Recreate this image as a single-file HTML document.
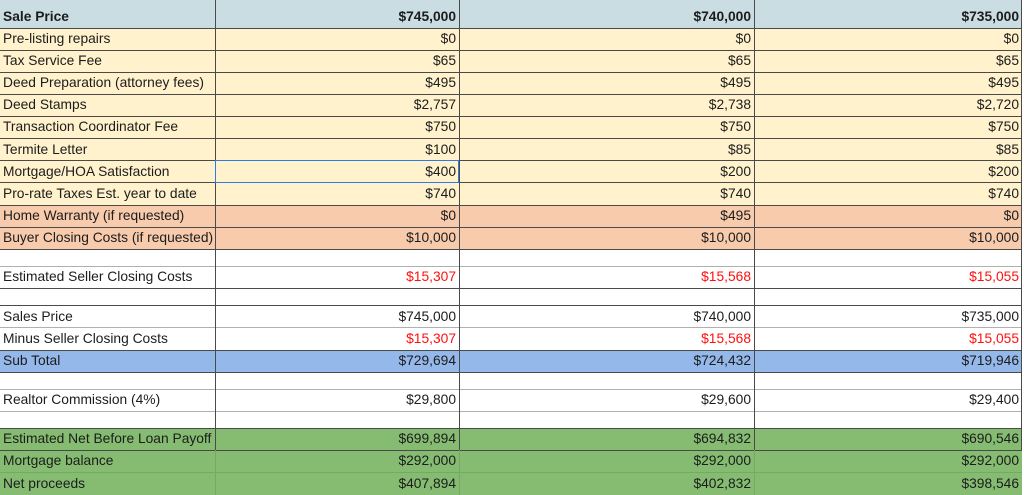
<!DOCTYPE html>
<html><head><meta charset="utf-8">
<style>
html,body{margin:0;padding:0;background:#fff;}
body{width:1024px;height:495px;position:relative;overflow:hidden;font-family:"Liberation Sans",Arial,sans-serif;font-size:13.8px;color:#1c1c1c;}
.r{position:absolute;left:0;width:1022px;}
.c{position:absolute;bottom:3px;line-height:16px;white-space:nowrap;}
.c0{left:3px;}
.c1{right:566px;}
.c2{right:271px;}
.c3{right:3px;}
.red{color:#ff1010;}
.b{font-weight:bold;}
.h{position:absolute;left:0;width:1022px;height:1px;background:#4a4a4a;}
.hl{background:#b0b0b0;}
.v{position:absolute;width:1px;background:#4a4a4a;}
.y{background:#fff2cc;}
.o{background:#f8cbad;}
.bl{background:#95b8ea;}
.g{background:#85bc72;}
.hd{background:#c9dde2;}
</style></head><body>

<div class="r hd" style="top:0;height:28px"><div class="c c0 b">Sale Price</div><div class="c c1 b">$745,000</div><div class="c c2 b">$740,000</div><div class="c c3 b">$735,000</div></div>
<div class="r y" style="top:28px;height:22px"><div class="c c0">Pre-listing repairs</div><div class="c c1">$0</div><div class="c c2">$0</div><div class="c c3">$0</div></div>
<div class="r y" style="top:50px;height:22px"><div class="c c0">Tax Service Fee</div><div class="c c1">$65</div><div class="c c2">$65</div><div class="c c3">$65</div></div>
<div class="r y" style="top:72px;height:22px"><div class="c c0">Deed Preparation (attorney fees)</div><div class="c c1">$495</div><div class="c c2">$495</div><div class="c c3">$495</div></div>
<div class="r y" style="top:94px;height:22px"><div class="c c0">Deed Stamps</div><div class="c c1">$2,757</div><div class="c c2">$2,738</div><div class="c c3">$2,720</div></div>
<div class="r y" style="top:116px;height:22px"><div class="c c0">Transaction Coordinator Fee</div><div class="c c1">$750</div><div class="c c2">$750</div><div class="c c3">$750</div></div>
<div class="r y" style="top:138px;height:23px"><div class="c c0">Termite Letter</div><div class="c c1">$100</div><div class="c c2">$85</div><div class="c c3">$85</div></div>
<div class="r y" style="top:161px;height:22px"><div class="c c0">Mortgage/HOA Satisfaction</div><div class="c c1">$400</div><div class="c c2">$200</div><div class="c c3">$200</div></div>
<div class="r y" style="top:183px;height:22px"><div class="c c0">Pro-rate Taxes Est. year to date</div><div class="c c1">$740</div><div class="c c2">$740</div><div class="c c3">$740</div></div>
<div class="r o" style="top:205px;height:22px"><div class="c c0">Home Warranty (if requested)</div><div class="c c1">$0</div><div class="c c2">$495</div><div class="c c3">$0</div></div>
<div class="r o" style="top:227px;height:22px"><div class="c c0">Buyer Closing Costs (if requested)</div><div class="c c1">$10,000</div><div class="c c2">$10,000</div><div class="c c3">$10,000</div></div>
<div class="r" style="top:249px;height:17px"></div>
<div class="r" style="top:266px;height:22px"><div class="c c0">Estimated Seller Closing Costs</div><div class="c c1 red">$15,307</div><div class="c c2 red">$15,568</div><div class="c c3 red">$15,055</div></div>
<div class="r" style="top:288px;height:18px"></div>
<div class="r" style="top:306px;height:22px"><div class="c c0">Sales Price</div><div class="c c1">$745,000</div><div class="c c2">$740,000</div><div class="c c3">$735,000</div></div>
<div class="r" style="top:328px;height:22px"><div class="c c0">Minus Seller Closing Costs</div><div class="c c1 red">$15,307</div><div class="c c2 red">$15,568</div><div class="c c3 red">$15,055</div></div>
<div class="r bl" style="top:350px;height:22px"><div class="c c0">Sub Total</div><div class="c c1">$729,694</div><div class="c c2">$724,432</div><div class="c c3">$719,946</div></div>
<div class="r" style="top:372px;height:17px"></div>
<div class="r" style="top:389px;height:22px"><div class="c c0">Realtor Commission (4%)</div><div class="c c1">$29,800</div><div class="c c2">$29,600</div><div class="c c3">$29,400</div></div>
<div class="r" style="top:411px;height:17px"></div>
<div class="r g" style="top:428px;height:22px"><div class="c c0">Estimated Net Before Loan Payoff</div><div class="c c1">$699,894</div><div class="c c2">$694,832</div><div class="c c3">$690,546</div></div>
<div class="r g" style="top:450px;height:22px"><div class="c c0">Mortgage balance</div><div class="c c1">$292,000</div><div class="c c2">$292,000</div><div class="c c3">$292,000</div></div>
<div class="r g" style="top:472px;height:23px"><div class="c c0">Net proceeds</div><div class="c c1">$407,894</div><div class="c c2">$402,832</div><div class="c c3">$398,546</div></div>

<!-- horizontal lines -->
<div class="h" style="top:28px"></div>
<div class="h" style="top:50px"></div>
<div class="h" style="top:72px"></div>
<div class="h" style="top:94px"></div>
<div class="h" style="top:116px"></div>
<div class="h" style="top:138px"></div>
<div class="h" style="top:160px"></div>
<div class="h" style="top:182px"></div>
<div class="h" style="top:205px"></div>
<div class="h" style="top:227px"></div>
<div class="h" style="top:249px"></div>
<div class="h hl" style="top:266px"></div>
<div class="h" style="top:288px"></div>
<div class="h" style="top:305px"></div>
<div class="h hl" style="top:327px"></div>
<div class="h" style="top:350px"></div>
<div class="h" style="top:372px"></div>
<div class="h hl" style="top:389px"></div>
<div class="h hl" style="top:411px"></div>
<div class="h" style="top:428px"></div>
<div class="h" style="top:450px"></div>
<div class="h" style="top:472px;background:#74ab62"></div>

<!-- vertical lines -->
<div class="v" style="left:215px;top:0;height:450px"></div>
<div class="v" style="left:459px;top:0;height:450px"></div>
<div class="v" style="left:754px;top:0;height:450px"></div>
<div class="v" style="left:1021px;top:0;height:450px"></div>
<div class="v" style="left:215px;top:450px;height:45px;background:#74ab62"></div>
<div class="v" style="left:459px;top:450px;height:45px;background:#74ab62"></div>
<div class="v" style="left:754px;top:450px;height:45px;background:#74ab62"></div>

<!-- selected cell -->
<div style="position:absolute;left:215px;top:160px;width:242px;height:21px;border:1.5px solid #2f7ae0;"></div>
</body></html>
